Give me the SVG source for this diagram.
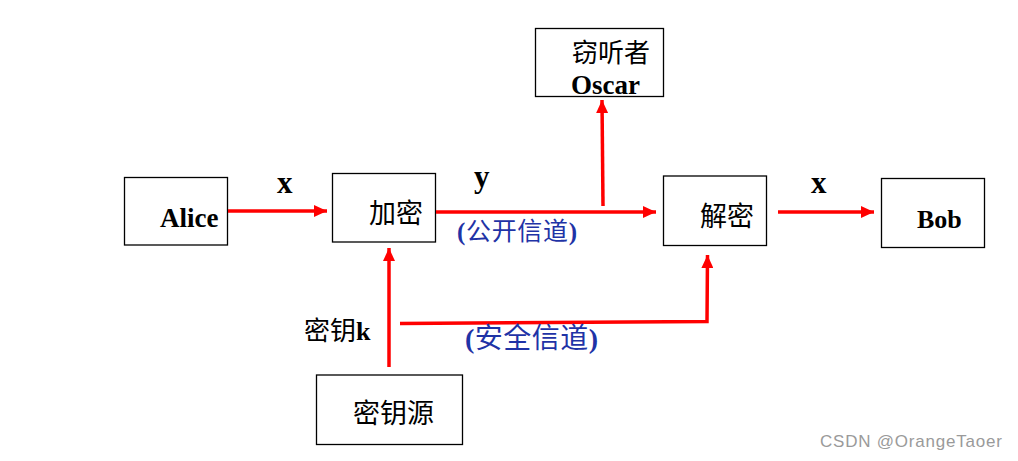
<svg xmlns="http://www.w3.org/2000/svg" width="1018" height="461" viewBox="0 0 1018 461">
<defs>
<marker id="ah" markerUnits="userSpaceOnUse" markerWidth="14" markerHeight="12" refX="13" refY="6" orient="auto">
<path d="M0,0 L13,6 L0,12 Z" fill="#ff0000"/>
</marker>
<style>
.box{fill:#fff;stroke:#000;stroke-width:1.3}
.lbl{font-family:"Liberation Serif","Noto Sans CJK SC",serif;font-weight:bold;fill:#000}
.cjk{font-family:"Liberation Serif","Noto Sans CJK SC",serif;fill:#000}
.blue{font-family:"Liberation Serif","Noto Sans CJK SC",serif;fill:#1f33a6}
.b{font-weight:bold}
.wire{fill:none;stroke:#ff0000;stroke-width:3.5}
</style>
</defs>
<rect width="1018" height="461" fill="#fff"/>
<g id="alice"><rect class="box" x="124.5" y="177.5" width="103" height="67.5"/><text class="lbl" x="160" y="227" font-size="27">Alice</text></g>
<g id="encrypt"><rect class="box" x="332.5" y="173.5" width="103" height="68.5"/><text class="cjk" x="369" y="223" font-size="27">加密</text></g>
<g id="oscar"><rect class="box" x="535.5" y="28.5" width="128" height="68"/><text class="cjk" x="572" y="62" font-size="26">窃听者</text><text class="lbl" x="571" y="94" font-size="27">Oscar</text></g>
<g id="decrypt"><rect class="box" x="663.5" y="176" width="103" height="69.5"/><text class="cjk" x="700" y="226" font-size="27">解密</text></g>
<g id="bob"><rect class="box" x="881.5" y="178.5" width="103" height="69"/><text class="lbl" x="917" y="228" font-size="26">Bob</text></g>
<g id="keysource"><rect class="box" x="316.5" y="375" width="146" height="69.5"/><text class="cjk" x="353" y="423" font-size="27">密钥源</text></g>
<g id="connectors">
<line class="wire" x1="228" y1="211" x2="327" y2="211" marker-end="url(#ah)"/>
<line class="wire" x1="436" y1="212" x2="656" y2="212" marker-end="url(#ah)"/>
<line class="wire" x1="603" y1="206" x2="602" y2="100" marker-end="url(#ah)"/>
<line class="wire" x1="778" y1="212" x2="874" y2="212" marker-end="url(#ah)"/>
<line class="wire" x1="389" y1="367" x2="389" y2="248" marker-end="url(#ah)"/>
<polyline class="wire" points="400,323.5 707,321.5 707.5,255" marker-end="url(#ah)"/>
</g>
<g id="labels">
<text class="lbl" x="277" y="193" font-size="31">x</text>
<text class="lbl" x="474" y="187" font-size="31">y</text>
<text class="lbl" x="811" y="193" font-size="31">x</text>
<text class="blue" x="457" y="240" font-size="25" textLength="120"><tspan class="b">(</tspan>公开信道<tspan class="b">)</tspan></text>
<text class="cjk" x="304" y="340" font-size="26">密钥<tspan class="b">k</tspan></text>
<text class="blue" x="465" y="348" font-size="28" textLength="133"><tspan class="b">(</tspan>安全信道<tspan class="b">)</tspan></text>
<text x="820" y="447" font-family="Liberation Sans, sans-serif" font-size="17" fill="#9a9a9a" textLength="182">CSDN @OrangeTaoer</text>
</g>
</svg>
